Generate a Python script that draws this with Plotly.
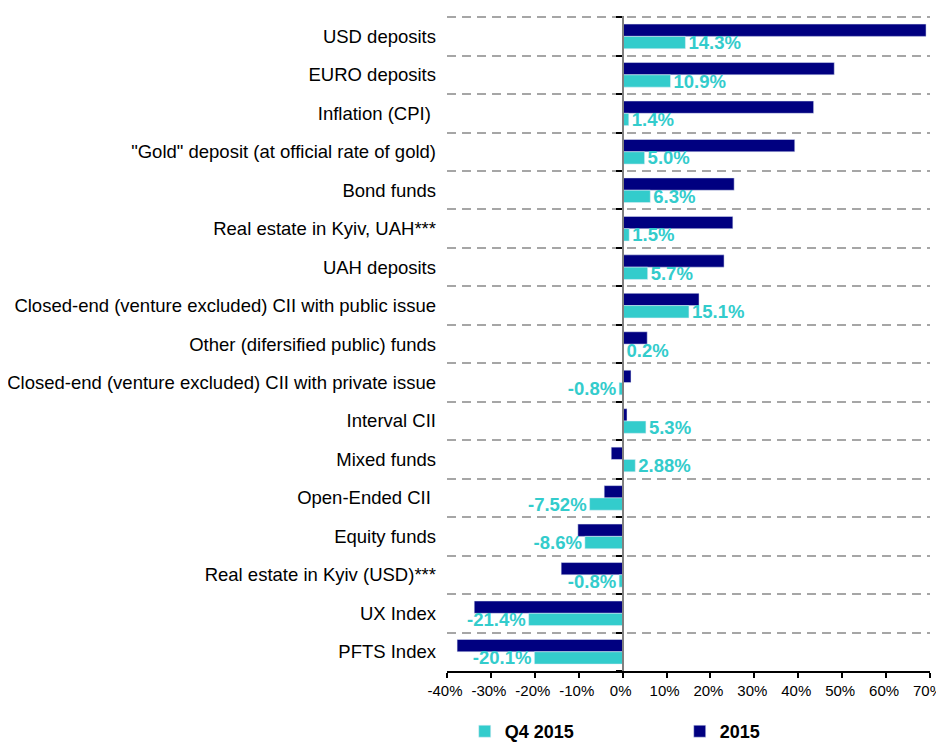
import plotly.graph_objects as go

categories = [
    "USD deposits",
    "EURO deposits",
    "Inflation (CPI) ",
    "\"Gold\" deposit (at official rate of gold)",
    "Bond funds",
    "Real estate in Kyiv, UAH***",
    "UAH deposits",
    "Closed-end (venture excluded) CII with public issue",
    "Other (difersified public) funds",
    "Closed-end (venture excluded) CII with private issue",
    "Interval CII",
    "Mixed funds",
    "Open-Ended CII ",
    "Equity funds",
    "Real estate in Kyiv (USD)***",
    "UX Index",
    "PFTS Index",
]

q4_2015 = [14.3, 10.9, 1.4, 5.0, 6.3, 1.5, 5.7, 15.1, 0.2, -0.8, 5.3, 2.88, -7.52, -8.6, -0.8, -21.4, -20.1]
q4_labels = ["14.3%", "10.9%", "1.4%", "5.0%", "6.3%", "1.5%", "5.7%", "15.1%", "0.2%", "-0.8%",
             "5.3%", "2.88%", "-7.52%", "-8.6%", "-0.8%", "-21.4%", "-20.1%"]

y2015 = [69.1, 48.2, 43.5, 39.2, 25.4, 25.1, 23.1, 17.4, 5.6, 1.9, 1.0, -2.6, -4.2, -10.2, -14.0, -33.8, -37.7]

x_ticks = [-40, -30, -20, -10, 0, 10, 20, 30, 40, 50, 60, 70]
x_tick_labels = ["-40%", "-30%", "-20%", "-10%", "0%", "10%", "20%", "30%", "40%", "50%", "60%", "70%"]

NAVY = "#000080"
CYAN = "#33CCCC"
FONT = "Liberation Sans, Arial, sans-serif"

n = len(categories)
boundaries = [i - 0.5 for i in range(n + 1)]
y_range = [n - 0.5, -0.53]

fig = go.Figure()
fig.add_trace(go.Bar(
    y=categories, x=y2015, orientation="h", name="2015",
    marker=dict(color=NAVY), legendrank=2,
))
fig.add_trace(go.Bar(
    y=categories, x=q4_2015, orientation="h", name="Q4 2015",
    marker=dict(color=CYAN), legendrank=1,
    text=q4_labels, textposition="outside", constraintext="none", cliponaxis=False,
    textfont=dict(family=FONT, size=18.5, color=CYAN, weight="bold"),
))
# helper trace for the boundary axis (zero line with tick marks + dashed grid)
fig.add_trace(go.Scatter(
    x=[0], y=[0], yaxis="y2", mode="markers", marker=dict(opacity=0),
    showlegend=False, hoverinfo="skip",
))

x_min, x_max = x_ticks[0], x_ticks[-1]

fig.update_layout(
    width=936, height=742,
    margin=dict(l=439, r=14, t=8, b=79, autoexpand=False),
    paper_bgcolor="white", plot_bgcolor="white",
    font=dict(family=FONT, size=16, color="black"),
    barmode="group", bargap=0.36, bargroupgap=0,
    xaxis=dict(
        range=[x_min, x_max], tickvals=x_ticks, ticktext=x_tick_labels,
        showgrid=False, zeroline=False, automargin=False,
        showline=True, linecolor="black", linewidth=1.5,
        ticks="outside", ticklen=5, tickcolor="black", tickwidth=1.5,
        tickfont=dict(size=15, family=FONT, color="black"),
        ticklabeloverflow="allow", ticklabelshift=-2,
    ),
    yaxis=dict(
        categoryorder="array", categoryarray=categories,
        range=y_range, automargin=False,
        showgrid=False, zeroline=False, showline=False,
        ticks="", ticklabelstandoff=10,
        tickfont=dict(size=18.5, family=FONT, color="black"),
    ),
    yaxis2=dict(
        overlaying="y", anchor="free", position=(0 - x_min) / (x_max - x_min),
        side="left", range=y_range, automargin=False,
        tickvals=boundaries, showticklabels=False,
        ticks="outside", ticklen=6, tickcolor="black", tickwidth=1.5,
        showline=True, linecolor="#808080", linewidth=2,
        showgrid=True, gridcolor="#A6A6A6", griddash="9px,6px", gridwidth=1.5,
        zeroline=False,
    ),
    legend=dict(
        orientation="h", x=0.0367, xanchor="left",
        yref="container", y=0, yanchor="bottom",
        font=dict(family=FONT, size=18, color="black", weight="bold"),
        entrywidth=170, entrywidthmode="pixels",
        traceorder="normal", borderwidth=0,
    ),
    showlegend=True,
)

fig.write_html("out.html")
